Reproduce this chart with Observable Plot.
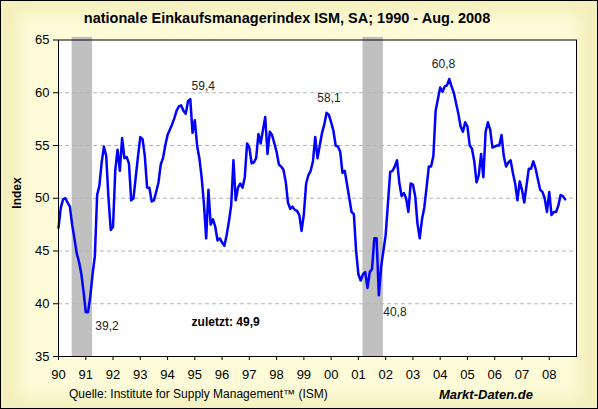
<!DOCTYPE html>
<html>
<head>
<meta charset="utf-8">
<script src="https://cdn.jsdelivr.net/npm/d3@7"></script>
<script src="https://cdn.jsdelivr.net/npm/@observablehq/plot@0.6"></script>
<style>
  html, body { margin: 0; padding: 0; background: #fff; }
  #wrap { position: relative; width: 598px; height: 409px; overflow: hidden;
          background: #F4F0BE; font-family: "Liberation Sans", Arial, sans-serif; }
  #glow { position: absolute; left: 20px; top: 14px; right: 20px; bottom: 12px;
          background: #FDFBD8; filter: blur(7px); }
  #border { position: absolute; left: 0; top: 0; width: 596px; height: 407px;
            border: 1px solid #000; pointer-events: none; }
  #chart { position: absolute; left: 0; top: 0; }
  .lbl { position: absolute; white-space: nowrap; line-height: 1; color: #000; }
  #title { left: 0; width: 574px; top: 11px; text-align: center; font-weight: bold; font-size: 14.5px; }
  #ylab { left: 16.5px; top: 193px; font-weight: bold; font-size: 12px;
          transform: translate(-50%, -50%) rotate(-90deg); }
  #src { left: 69px; top: 388px; font-size: 12px; }
  #brand { left: 439px; top: 387.5px; font-size: 13px; font-weight: bold; font-style: italic; }
</style>
</head>
<body>
<div id="wrap">
  <div id="glow"></div>
  <div id="chart"></div>
  <div class="lbl" id="title">nationale Einkaufsmanagerindex ISM, SA; 1990 - Aug. 2008</div>
  <div class="lbl" id="ylab">Index</div>
  <div class="lbl" id="src">Quelle: Institute for Supply Management™ (ISM)</div>
  <div class="lbl" id="brand">Markt-Daten.de</div>
  <div id="border"></div>
</div>
<script>
// ISM manufacturing index, monthly values (Jan..Dec)
const ism1990 = [47.2, 49.1, 49.9, 50.0, 49.6, 49.2, 47.5, 46.2, 44.8, 44.0, 42.9, 41.2];
const ism1991 = [39.2, 39.2, 40.7, 42.8, 44.5, 50.3, 51.2, 53.4, 54.9, 54.0, 50.0, 47.0];
const ism1992 = [47.3, 52.7, 54.6, 52.6, 55.7, 53.8, 53.9, 53.3, 49.8, 50.0, 52.0, 54.0];
const ism1993 = [55.8, 55.6, 54.0, 51.0, 51.0, 49.7, 49.8, 50.6, 51.5, 53.2, 53.8, 55.0];
const ism1994 = [56.0, 56.5, 57.0, 57.6, 58.3, 58.7, 58.8, 58.3, 58.0, 59.2, 59.4, 56.2];
const ism1995 = [57.4, 55.0, 53.8, 52.0, 49.5, 46.2, 50.8, 47.5, 48.0, 47.3, 46.0, 46.2];
const ism1996 = [45.8, 45.5, 46.5, 47.8, 49.3, 53.6, 49.8, 51.0, 51.4, 51.0, 52.0, 55.2];
const ism1997 = [54.8, 53.3, 53.4, 53.8, 56.1, 55.2, 56.5, 57.7, 54.2, 56.3, 56.0, 55.2];
const ism1998 = [54.4, 53.2, 53.0, 52.7, 51.6, 49.6, 49.0, 49.2, 48.9, 48.8, 48.4, 46.9];
const ism1999 = [48.5, 51.4, 52.2, 52.6, 53.5, 55.8, 53.8, 55.0, 56.2, 57.0, 58.1, 57.9];
const ism2000 = [57.2, 56.4, 55.0, 54.9, 54.4, 52.4, 52.6, 51.3, 50.0, 48.7, 48.5, 45.0];
const ism2001 = [42.8, 42.2, 42.8, 43.0, 41.5, 43.0, 43.3, 46.2, 46.2, 40.8, 43.5, 45.0];
const ism2002 = [46.5, 49.5, 52.5, 52.6, 53.0, 53.6, 51.5, 50.2, 50.5, 50.0, 48.7, 51.4];
const ism2003 = [51.3, 50.2, 47.6, 46.2, 48.0, 49.1, 51.0, 53.0, 53.0, 54.0, 58.3, 59.4];
const ism2004 = [60.5, 60.1, 60.6, 60.7, 61.3, 60.6, 60.0, 59.0, 58.0, 56.8, 56.3, 57.2];
const ism2005 = [56.8, 55.0, 54.7, 53.5, 51.5, 52.2, 54.2, 52.0, 56.3, 57.2, 56.5, 54.8];
const ism2006 = [54.9, 55.0, 55.0, 56.0, 54.0, 53.0, 53.4, 53.6, 52.4, 51.4, 49.8, 51.6];
const ism2007 = [50.8, 49.6, 51.2, 52.8, 52.8, 53.5, 52.8, 51.8, 50.8, 50.6, 50.0, 48.7];
const ism2008 = [50.6, 48.4, 48.7, 48.7, 49.3, 50.3, 50.2, 49.9];

const years = [1990, 1991, 1992, 1993, 1994, 1995, 1996, 1997, 1998, 1999,
               2000, 2001, 2002, 2003, 2004, 2005, 2006, 2007, 2008];
const yearValues = [ism1990, ism1991, ism1992, ism1993, ism1994, ism1995, ism1996, ism1997,
                    ism1998, ism1999, ism2000, ism2001, ism2002, ism2003, ism2004, ism2005,
                    ism2006, ism2007, ism2008];

// x tick labels
const xTickLabels = ["90","91","92","93","94","95","96","97","98","99",
                     "00","01","02","03","04","05","06","07","08"];
const yTicks = [35, 40, 45, 50, 55, 60, 65];
const gridValues = [40, 45, 50, 55, 60];

// US recessions (decimal years)
const recStart = [1990.5, 2001.1667];
const recEnd = [1991.25, 2001.9167];

// annotations
const annLabels = ["59,4", "58,1", "60,8", "39,2", "40,8"];
const annX = [1995.31, 1999.92, 2004.12, 1991.78, 2002.34];
const annY = [60.6, 59.45, 62.74, 37.87, 39.2];
const lastLabel = ["zuletzt: 49,9"];
const lastX = [1996.13];
const lastY = [38.25];

const series = [];
yearValues.forEach((vals, i) => vals.forEach((v, m) => series.push({t: years[i] + m / 12, v})));
const recessions = recStart.map((s, i) => ({s, e: recEnd[i]}));

const chart = Plot.plot({
  width: 598,
  height: 409,
  marginLeft: 58,
  marginRight: 22,
  marginTop: 39.5,
  marginBottom: 53,
  style: {background: "transparent", fontFamily: "'Liberation Sans', Arial, sans-serif", fontSize: "13px", color: "#000", overflow: "visible"},
  x: {type: "linear", domain: [1990, 2009], ticks: years, tickFormat: (d, i) => xTickLabels[i],
      tickSize: 4, tickPadding: 9, label: null},
  y: {domain: [35, 65], ticks: yTicks, tickSize: 5, tickPadding: 4, label: null},
  marks: [
    Plot.frame({fill: "white", stroke: "none"}),
    Plot.rect(recessions, {x1: "s", x2: "e", y1: 35, y2: 65.25, fill: "#c0c0c0", clip: false}),
    Plot.ruleY(gridValues, {stroke: "#b4b4b4", strokeDasharray: "4,3", strokeWidth: 1}),
    Plot.line(series, {x: "t", y: "v", stroke: "#0000ff", strokeWidth: 2.5}),
    Plot.frame({stroke: "#000", strokeWidth: 1}),
    Plot.text(annLabels, {x: (d, i) => annX[i], y: (d, i) => annY[i], text: d => d, fontSize: 12, fill: "#222"}),
    Plot.text(lastLabel, {x: (d, i) => lastX[i], y: (d, i) => lastY[i], text: d => d, fontSize: 12, fontWeight: "bold", fill: "#000"})
  ]
});
document.getElementById("chart").appendChild(chart);
</script>
</body>
</html>
